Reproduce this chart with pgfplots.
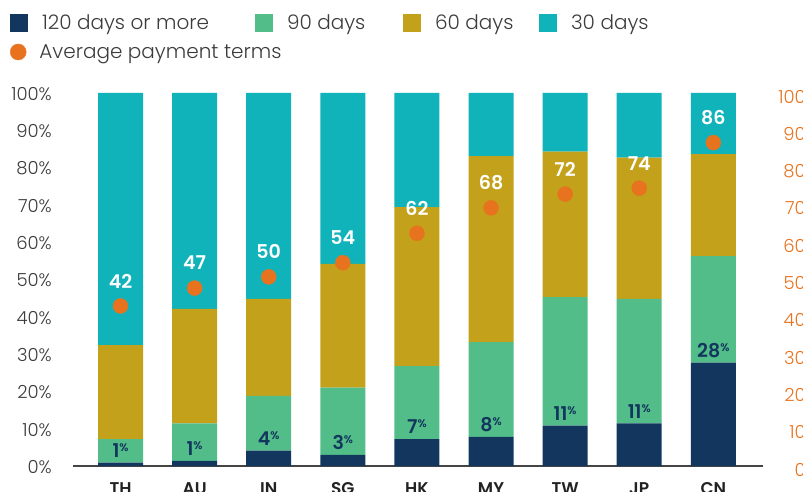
\documentclass[border=0pt]{standalone}
\usepackage{pgfplots}
\usepackage{pgfplotstable}
\pgfplotsset{compat=1.18}
\usepackage{fontspec}
\setmainfont{Poppins}[UprightFont={* Light}, BoldFont={* SemiBold}]
\definecolor{cnavy}{HTML}{13365E}
\definecolor{cgreen}{HTML}{52BD88}
\definecolor{cgold}{HTML}{C4A11A}
\definecolor{ccyan}{HTML}{10B3BA}
\definecolor{corange}{HTML}{E8731F}
\definecolor{ctext}{HTML}{3C3C3C}
\definecolor{caxis}{HTML}{444444}
\definecolor{cxlab}{HTML}{222222}

\pgfplotstableread{
x navy lab green gold cyan
0 0.9  1  6.3  25.2 67.6
1 1.4  1  10.0 30.7 57.9
2 4.1  4  14.7 26.0 55.2
3 3.0  3  18.0 33.2 45.8
4 7.2  7  19.6 42.6 30.6
5 7.8  8  25.4 49.9 16.9
6 10.8 11 34.5 39.0 15.7
7 11.4 11 33.4 37.9 17.3
8 27.7 28 28.6 27.3 16.4
}\tabbars

\pgfplotstableread{
x avg lab
0 42.9 42
1 47.7 47
2 50.7 50
3 54.5 54
4 62.4 62
5 69.2 68
6 72.9 72
7 74.5 74
8 86.7 86
}\tabavg

\newcommand\legfont{\fontsize{20}{24}\selectfont}
\newcommand\tickfont{\fontsize{18}{20}\selectfont}

\pgfplotsset{
  sqlegend/.style={legend image code/.code={\fill[##1] (0pt,-9pt) rectangle (18pt,9pt); \path (32pt,0pt);}},
  common/.style={
    at={(0pt,0pt)}, anchor=south west,
    scale only axis, width=690pt, height=373pt,
    xmin=-0.641, xmax=8.67, ymin=0, ymax=100,
    major tick length=0pt,
    ytick={0,10,...,100},
    legend cell align=left,
  },
}

\begin{document}
\begin{tikzpicture}
\begin{axis}[common,
  ybar stacked, bar width=45pt,
  axis x line*=bottom, axis y line*=left,
  x axis line style={draw=caxis, line width=2pt},
  y axis line style={draw=none},
  xtick={0,...,8},
  xticklabels={TH,AU,IN,SG,HK,MY,TW,JP,CN},
  xticklabel style={anchor=north, inner sep=0pt, yshift=-16pt, font=\fontsize{17}{20}\selectfont\bfseries, text=cxlab},
  yticklabels={0\%,10\%,20\%,30\%,40\%,50\%,60\%,70\%,80\%,90\%,100\%},
  yticklabel style={anchor=east, inner sep=0pt, xshift=-21pt, yshift=-1pt, font=\tickfont, text=ctext},
  legend columns=4,
  legend style={at={(axis description cs:-0.0913,1.189)}, anchor=west, draw=none, fill=none,
    inner sep=0pt, outer sep=0pt, column sep=0pt, row sep=0pt,
    nodes={inner sep=0pt, text=ctext, font=\legfont}},
]
\addplot+[sqlegend, fill=cnavy, draw=none] table[x=x, y=navy] {\tabbars};
\addlegendentry{\makebox[213pt][l]{120 days or more}}
\addplot+[sqlegend, fill=cgreen, draw=none] table[x=x, y=green] {\tabbars};
\addlegendentry{\makebox[116pt][l]{90 days}}
\addplot+[sqlegend, fill=cgold, draw=none] table[x=x, y=gold] {\tabbars};
\addlegendentry{\makebox[104pt][l]{60 days}}
\addplot+[sqlegend, fill=ccyan, draw=none] table[x=x, y=cyan] {\tabbars};
\addlegendentry{30 days}
\end{axis}

\begin{axis}[common,
  axis x line=none,
  axis y line*=right,
  y axis line style={draw=none},
  yticklabels={0,10,20,30,40,50,60,70,80,90,100},
  yticklabel style={anchor=east, inner sep=0pt, xshift=43pt, yshift=-3.5pt, font=\tickfont, text=corange},
  legend style={at={(axis description cs:-0.0913,1.110)}, anchor=west, draw=none, fill=none,
    inner sep=0pt, outer sep=0pt, column sep=0pt, row sep=0pt,
    nodes={inner sep=0pt, text=ctext, font=\legfont}},
]
% labels of the 120-days share, drawn above the bars
\addplot[forget plot, draw=none, mark=none,
  nodes near coords, point meta=explicit symbolic,
  every node near coord/.style={anchor=south, inner sep=0pt, yshift=5pt, text=cnavy,
    font=\fontsize{19}{20}\selectfont\bfseries},
  nodes near coords={\pgfplotspointmeta\raisebox{6pt}{\fontsize{11}{11}\selectfont\%}}]
  table[x=x, y=navy, meta=lab] {\tabbars};
\addplot[color=corange, only marks, mark=*, mark size=7.5pt, mark options={fill=corange, draw=corange},
  legend image code/.code={\fill[corange] (8pt,0pt) circle (8pt); \path (29pt,0pt);},
  nodes near coords, point meta=explicit symbolic,
  every node near coord/.style={anchor=center, yshift=25pt, text=white,
    font=\fontsize{19}{20}\selectfont\bfseries}]
  table[x=x, y=avg, meta=lab] {\tabavg};
\addlegendentry{Average payment terms}
\end{axis}
\pgfresetboundingbox
\path[use as bounding box] (-73pt,-25pt) rectangle (730pt,466pt);
\end{tikzpicture}
\end{document}
